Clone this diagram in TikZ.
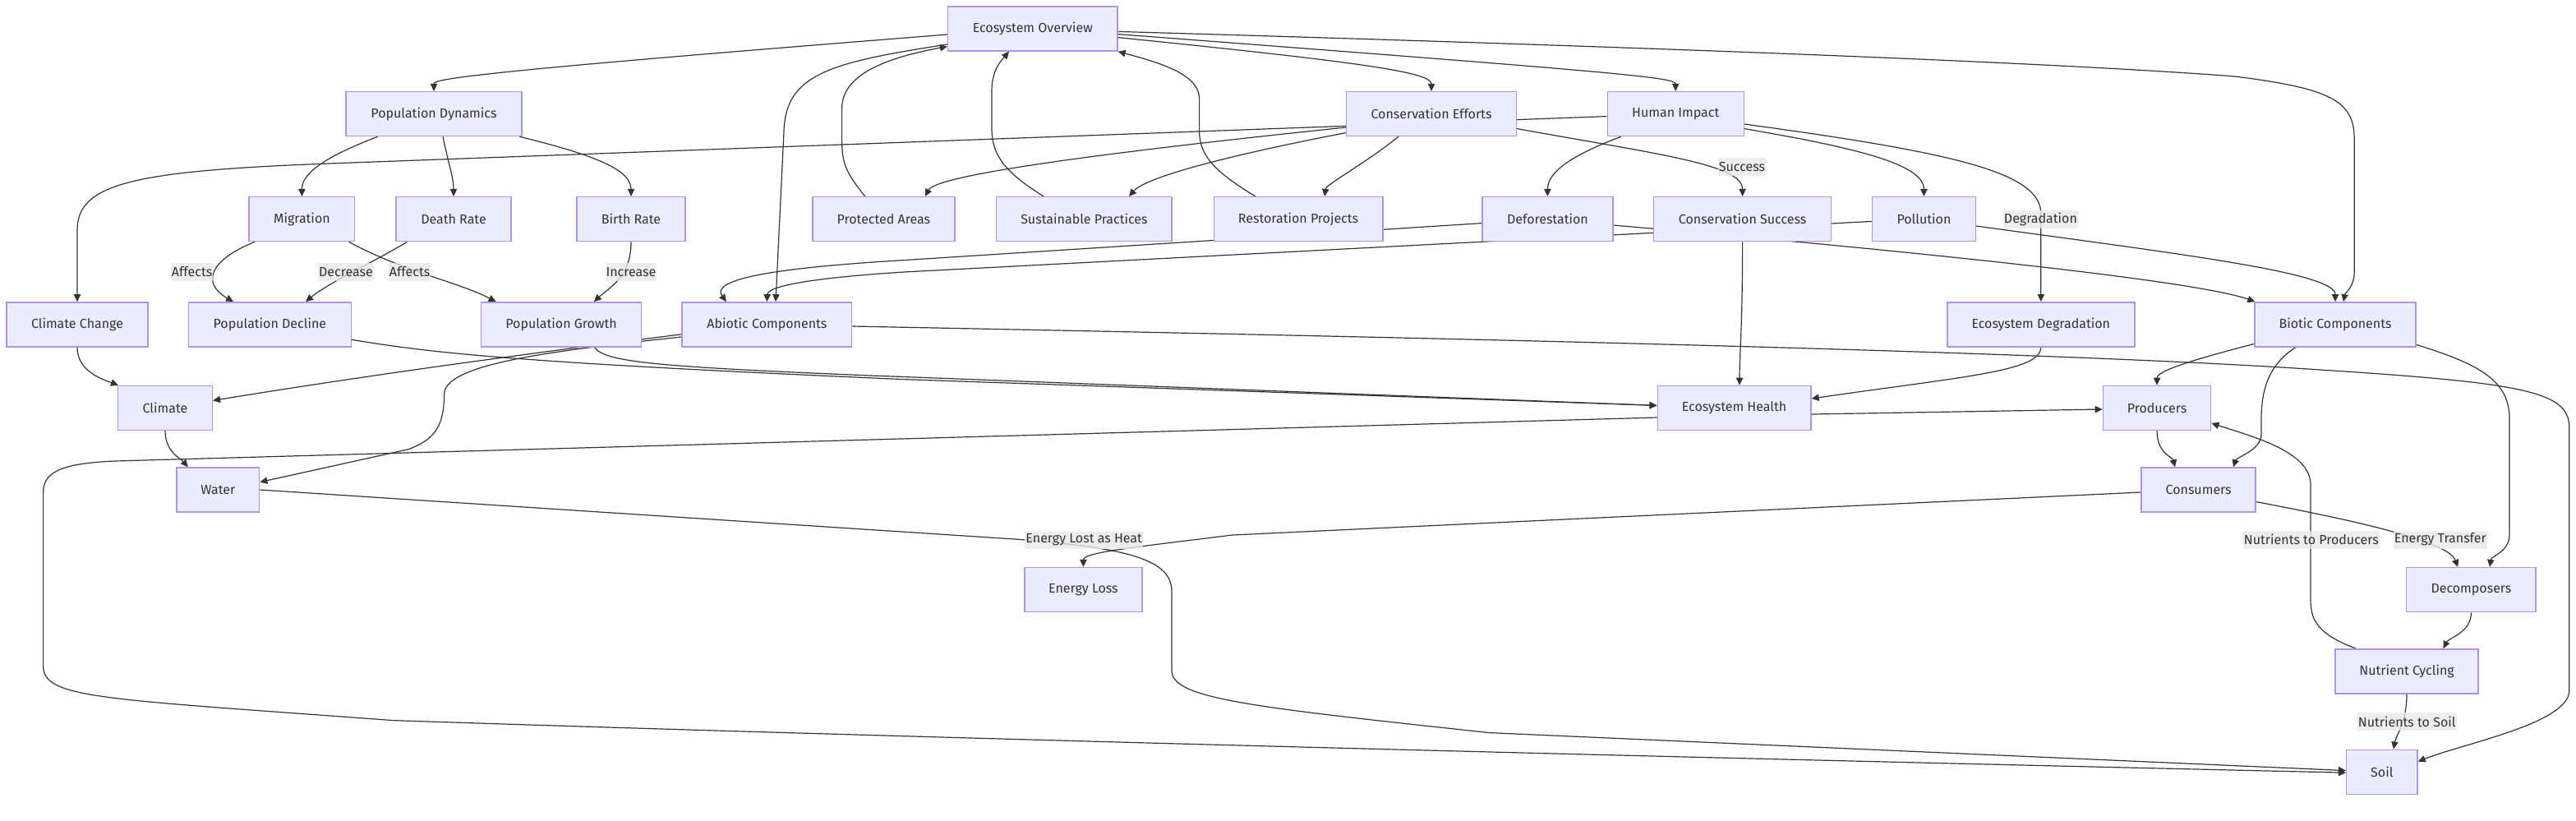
\documentclass[tikz,border=0pt]{standalone}
\usepackage{fontspec}
\setmainfont{Fira Sans}
\usetikzlibrary{arrows.meta}
\definecolor{boxfill}{HTML}{ECECFF}
\definecolor{boxline}{HTML}{AE94E4}
\definecolor{edgeline}{HTML}{333333}
\definecolor{lblfill}{HTML}{E8E8E8}
\pgfdeclarelayer{bg}
\pgfsetlayers{bg,main}

\begin{document}
\begin{tikzpicture}[
    x=1pt, y=-1pt,
    every node/.style={font=\fontsize{8}{9.6}\selectfont, text=edgeline},
    box/.style={draw=boxline, fill=boxfill, line width=0.7pt,
      minimum height=27pt, inner sep=0pt},
    lbl/.style={fill=lblfill, fill opacity=0.8, text opacity=1,
      inner xsep=0.5pt, inner ysep=0pt, minimum height=11pt},
    link/.style={draw=edgeline, line width=0.6pt,
      -{Triangle[length=4.5pt, width=4.2pt]}}
]
  \useasboundingbox (0,0) rectangle (1567.5,499);

  % boxes: name/x/y/width/text
  \foreach \nm/\x/\y/\w/\txt in {%
    eo/628.4/17.5/103.2/Ecosystem Overview,
    pd/264/69.3/107/Population Dynamics,
    ce/871/69.3/103.5/Conservation Efforts,
    hi/1019.6/69.3/83/Human Impact,
    mig/183.7/133.3/64.3/Migration,
    dr/276/133.3/70/Death Rate,
    br/384/133.3/66/Birth Rate,
    pa/537.7/133.3/86.6/Protected Areas,
    sp/659.7/133.3/106.7/Sustainable Practices,
    rp/790/133.3/102.8/Restoration Projects,
    defo/941.7/133.3/79.4/Deforestation,
    cs/1060.3/133.3/107.9/Conservation Success,
    pol/1170.7/133.3/63/Pollution,
    cc/47/197.4/86.1/Climate Change,
    popd/164.2/197.4/99/Population Decline,
    pg/341.5/197.4/97.6/Population Growth,
    abio/466.7/197.4/103.3/Abiotic Components,
    ed/1241.9/197.4/114/Ecosystem Degradation,
    bio/1421/197.4/98/Biotic Components,
    clim/100.5/248.2/57.4/Climate,
    eh/1055.3/248.2/93.4/Ecosystem Health,
    prod/1312.5/248.2/65.7/Producers,
    water/132.7/298/50.3/Water,
    cons/1337.8/298/69.5/Consumers,
    eloss/659.2/358.8/71.6/Energy Loss,
    dec/1503.7/358.8/78.7/Decomposers,
    nc/1464.5/408.4/87/Nutrient Cycling,
    soil/1449.4/469.6/43.2/Soil}{
    \node[box, minimum width=\w pt] (\nm) at (\x,\y) {\txt};
  }

  % edge labels
  \foreach \nm/\x/\y/\txt in {%
    laffa/116.8/165.3/Affects,
    ldecr/210.5/165.3/Decrease,
    laffb/249.3/165.3/Affects,
    lincr/384/165.3/Increase,
    lsucc/1060/101.5/Success,
    ldegr/1241.7/133.3/Degradation,
    lheat/659.6/328.3/Energy Lost as Heat,
    lnprod/1406.4/328.3/Nutrients to Producers,
    lenergy/1484.9/328.3/Energy Transfer,
    lnsoil/1464.6/439/Nutrients to Soil}{
    \node[lbl] (\nm) at (\x,\y) {\txt};
  }

  \begin{pgfonlayer}{bg}
  % overview
  \draw[link] ([yshift=-3.5pt]eo.west) .. controls (285,44) and (264,48) .. (pd.north);
  \draw[link] ([yshift=-9.5pt]eo.west) .. controls (505,38) and (478,45) .. (477,80)
    -- ([xshift=5.3pt]abio.north);
  \draw[link] ([yshift=-5.3pt]eo.east) .. controls (830,38) and (871,44) .. (ce.north);
  \draw[link] ([yshift=-3.3pt]eo.east) .. controls (985,44) and (1019.6,47) .. (hi.north);
  \draw[link] ([yshift=-1.7pt]eo.east) .. controls (1000,28.5) and (1250,38) .. (1360,46.5)
    .. controls (1420,54) and (1432.6,62) .. (1432.6,85) -- (1432.6,165)
    .. controls (1432.6,175) and (1427,178) .. ([xshift=5pt]bio.north);
  \draw[link] ([xshift=-11.4pt]pa.north) .. controls (515,105) and (512.3,100) .. (512.3,85)
    -- (512.3,66) .. controls (512.3,45) and (540,35) .. ([yshift=-10.8pt]eo.west);
  \draw[link] ([xshift=-24.7pt]sp.north) .. controls (612,105) and (603.5,95) .. (603.5,78)
    -- (603.5,55) .. controls (603.5,42) and (610,36) .. ([xshift=-14.4pt]eo.south);
  \draw[link] ([xshift=-26.1pt]rp.north) .. controls (740,105) and (729.8,95) .. (729.8,80)
    -- (729.8,60) .. controls (729.8,45) and (705,38) .. (eo.south east);

  % population
  \draw[link] ([xshift=-34.2pt]pd.south) .. controls (196,96) and (183.7,106) .. (mig.north);
  \draw[link] ([xshift=5.5pt]pd.south) .. controls (273,100) and (276,108) .. (dr.north);
  \draw[link] ([xshift=-1.7pt]pd.south east) .. controls (365,95) and (384,104) .. (br.north);
  \draw[link] ([xshift=-28.7pt]mig.south) .. controls (128,158) and (122,172)
    .. ([xshift=-22.2pt]popd.north);
  \draw[link] ([xshift=28.6pt]mig.south) .. controls (245,165) and (280,172)
    .. ([xshift=-39.7pt]pg.north);
  \draw[link] ([xshift=-28.3pt]dr.south) .. controls (230,158) and (200,172)
    .. ([xshift=21.8pt]popd.north);
  \draw[link] (br.south) .. controls (384,168) and (372,174) .. ([xshift=19.9pt]pg.north);
  \draw[link] ([xshift=20.2pt]pg.south) .. controls (368,220) and (395,223) .. (530,228.5)
    -- ([yshift=1.5pt]eh.west);
  \draw[link] ([yshift=-9.3pt]popd.east) .. controls (260,214) and (300,220) .. (550,230.8)
    -- ([yshift=1.5pt]eh.west);

  % conservation and human impact
  \draw[link] ([yshift=-8.2pt]ce.west) .. controls (680,92) and (570,106)
    .. ([xshift=25.3pt]pa.north);
  \draw[link] ([yshift=-11.5pt]ce.west) .. controls (745,95) and (697,108)
    .. ([xshift=27.3pt]sp.north);
  \draw[link] ([xshift=-20.1pt]ce.south) .. controls (830,100) and (807,112)
    .. ([xshift=16pt]rp.north);
  \draw[link] ([yshift=-9pt]ce.east) .. controls (1010,94) and (1060.3,100) .. (cs.north);
  \draw[link] ([yshift=-1.5pt]hi.west) -- (200,99.5) .. controls (80,104) and (47,112)
    .. (47,140) -- (cc.north);
  \draw[link] ([xshift=-33.3pt]hi.south) .. controls (955,95) and (941.7,105) .. (defo.north);
  \draw[link] ([yshift=-9pt]hi.east) .. controls (1130,90) and (1170.7,100) .. (pol.north);
  \draw[link] ([yshift=-6.2pt]hi.east) .. controls (1190,93) and (1241.9,105) .. (1241.9,130)
    -- (ed.north);
  \draw[link] ([yshift=-2.5pt]defo.west) -- (550,158.3) .. controls (470,163) and (432,170)
    .. ([xshift=-24.7pt]abio.north);
  \draw[link] ([yshift=-1.4pt]pol.west) -- (550,165.5) .. controls (495,169) and (467,174)
    .. (abio.north);
  \draw[link] ([yshift=-3.7pt]defo.east) .. controls (1200,156) and (1340,172)
    .. ([xshift=0.5pt]bio.north west);
  \draw[link] ([yshift=-4.2pt]pol.east) .. controls (1330,155) and (1421,166) .. (bio.north);
  \draw[link] (cs.south) .. controls (1060.3,200) and (1058.5,215) .. ([xshift=3.2pt]eh.north);
  \draw[link] (ed.south) .. controls (1241.9,226) and (1195,229) .. ([yshift=5.7pt]eh.east);

  % abiotic side
  \draw[link] (cc.south) .. controls (47,225) and (60,230) .. ([xshift=0.5pt]clim.north west);
  \draw[link] (clim.south) .. controls (100.5,275) and (110,279)
    .. ([xshift=7.2pt]water.north west);
  \draw[link] ([yshift=-6pt]abio.west) .. controls (370,209) and (250,224)
    .. ([yshift=4.5pt]clim.east);
  \draw[link] ([yshift=-7.6pt]abio.west) .. controls (330,214) and (270.3,222) .. (270.3,240)
    .. controls (270.3,262) and (262,268) .. (248.8,273.3) -- ([yshift=4.7pt]water.east);
  \draw[link] ([yshift=-1.1pt]abio.east) .. controls (900,206) and (1250,214) .. (1412,225)
    .. controls (1535,233) and (1563.4,238) .. (1563.4,260) -- (1563.4,420)
    .. controls (1563.4,440) and (1500,452) .. ([yshift=6.3pt]soil.east);
  \draw[link] (water.east) -- (622,328.3) .. controls (695,334) and (713,343) .. (713,360)
    -- (713,408) .. controls (713,425) and (760,430) .. (906.4,445.8)
    -- ([yshift=0.8pt]soil.west);
  \draw[link] ([yshift=-3.8pt]eh.east) -- ([yshift=-0.8pt]prod.west);
  \draw[link] ([yshift=-5.8pt]eh.west) -- (70,280.5) .. controls (35,282) and (26.3,288)
    .. (26.3,300) -- (26.3,405) .. controls (26.3,425) and (60,425) .. (239.2,438.3)
    .. controls (500,447) and (900,458) .. ([yshift=-0.5pt]soil.west);

  % biotic side
  \draw[link] ([yshift=-11.8pt]bio.west) .. controls (1330,220) and (1312.5,226) .. (prod.north);
  \draw[link] ([xshift=-24pt]bio.south) .. controls (1380,222) and (1376,238) .. (1376,255)
    -- (1376,264) .. controls (1376,274) and (1361,278) .. ([xshift=21.2pt]cons.north);
  \draw[link] (prod.south) .. controls (1312.5,276) and (1322,278)
    .. ([xshift=-14.3pt]cons.north);
  \draw[link] ([yshift=-12.3pt]bio.east) .. controls (1510,222) and (1527,232) .. (1527,255)
    -- (1527,325) .. controls (1527,336) and (1516,338) .. ([xshift=11.3pt]dec.north);
  \draw[link] ([yshift=-7.3pt]cons.east) .. controls (1440,318) and (1490,330)
    .. ([xshift=-8.1pt]dec.north);
  \draw[link] ([yshift=-1.5pt]cons.west) -- (750,325.5) .. controls (690,333) and (659.2,336)
    .. (eloss.north);
  \draw[link] (dec.south) .. controls (1503.7,385) and (1490,388) .. ([xshift=22.2pt]nc.north);
  \draw[link] ([xshift=-31pt]nc.north) .. controls (1411,386) and (1406,378) .. (1406,365)
    -- (1406,295) .. controls (1406,275) and (1372,266) .. ([yshift=-9.3pt]prod.east);
  \draw[link] (nc.south) .. controls (1464.5,440) and (1458,447) .. ([xshift=7.1pt]soil.north);
  \end{pgfonlayer}
\end{tikzpicture}
\end{document}
